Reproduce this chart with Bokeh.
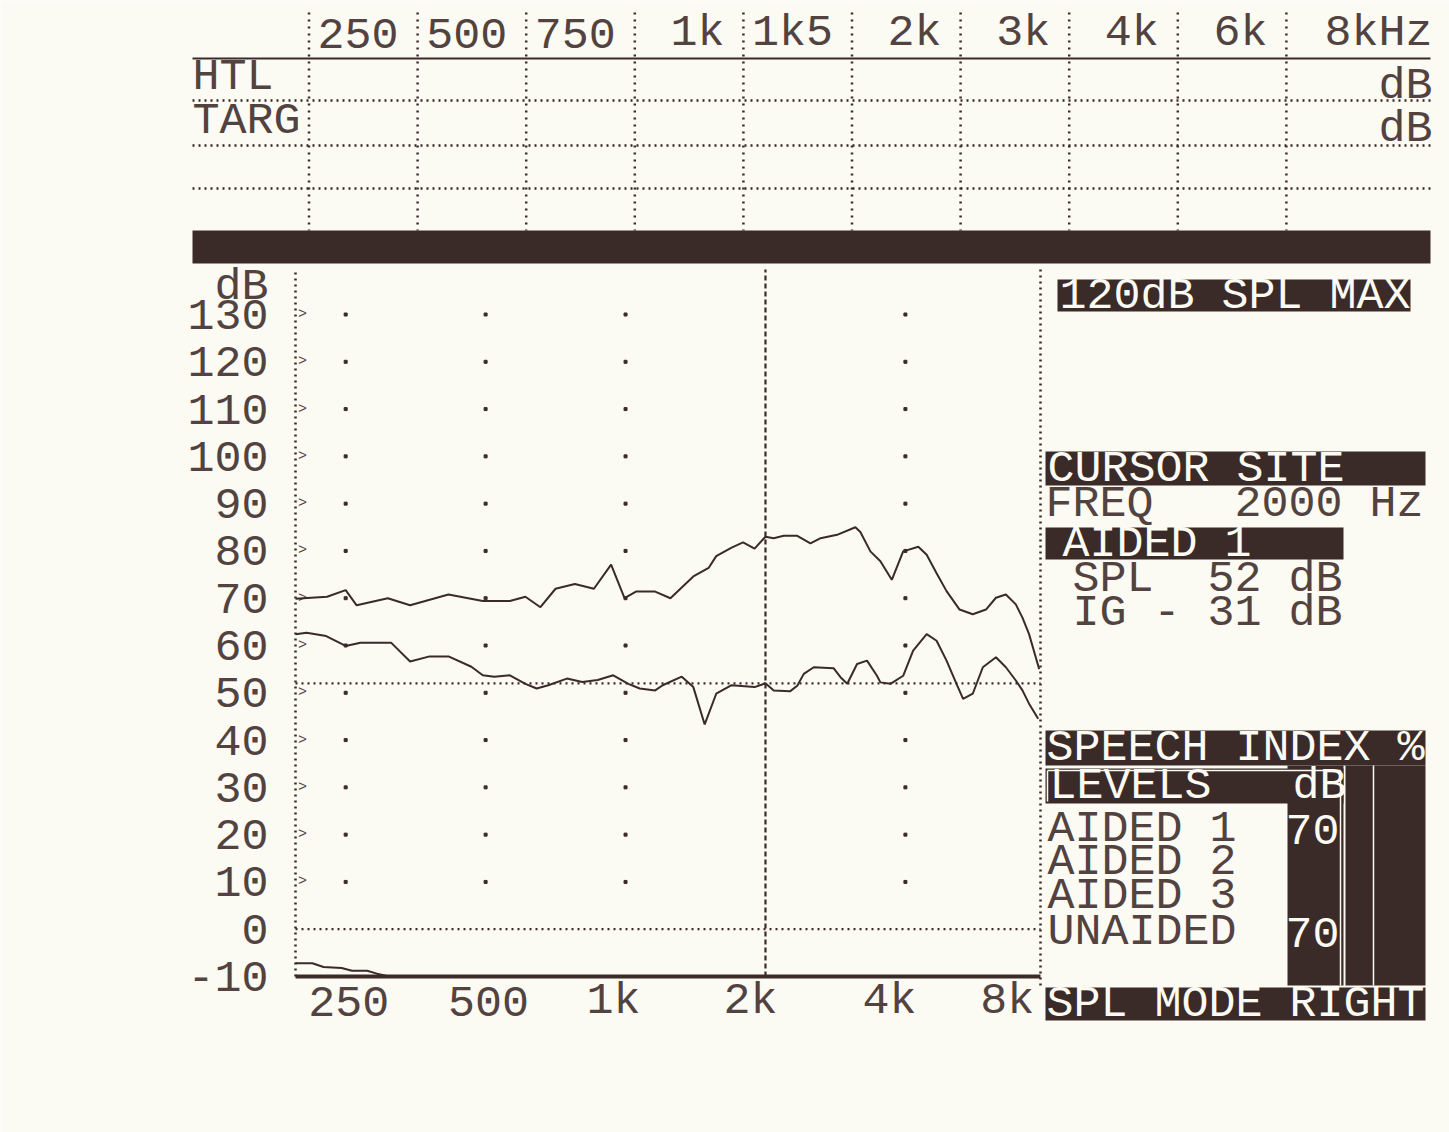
import math
from bokeh.plotting import figure
from bokeh.models import Range1d, LinearScale, LogScale
from bokeh.core.properties import value
from bokeh.embed import file_html
from bokeh.resources import INLINE

# ---- audiogram table header ----
band_labels = ["250", "500", "750", "1k", "1k5", "2k", "3k", "4k", "6k", "8kHz"]
table_rows = ["HTL", "TARG"]
table_unit = "dB"

# ---- response chart axes ----
level_ticks = [130, 120, 110, 100, 90, 80, 70, 60, 50, 40, 30, 20, 10, 0, -10]
level_unit = "dB"
freq_ticks = [250, 500, 1000, 2000, 4000, 8000]
freq_tick_labels = ["250", "500", "1k", "2k", "4k", "8k"]
dot_freqs = [250, 500, 1000, 4000]
dot_levels = [130, 120, 110, 100, 90, 80, 70, 60, 50, 40, 30, 20, 10]

# ---- measured responses (Hz, dB SPL) ----
unaided_freq = [195, 228, 250, 264, 308, 344, 416, 493, 564, 609, 656, 707, 778,
                855, 931, 995, 1053, 1158, 1249, 1399, 1509, 1567, 1691, 1790,
                1895, 2000, 2083, 2189, 2341, 2499, 2628, 2851, 3122, 3200, 3363,
                3534, 3739, 3956, 4264, 4444, 4668, 4904, 5231, 5584, 5962, 6263,
                6579, 6912, 7142, 7380, 7628, 7760]
unaided_spl = [69.9, 70.3, 71.7, 68.5, 70.0, 68.5, 70.8, 69.4, 69.4, 70.3, 68.1,
               72.0, 73.0, 72.0, 77.1, 70.0, 71.4, 71.4, 70.0, 74.6, 76.4, 78.9,
               80.7, 81.8, 80.5, 83.0, 82.7, 83.2, 83.2, 81.6, 82.7, 83.4, 85.0,
               84.0, 79.9, 77.8, 73.9, 79.9, 80.9, 79.2, 75.3, 71.5, 67.6, 66.6,
               67.6, 70.1, 70.8, 68.7, 65.9, 62.4, 57.5, 55.0]

aided1_freq = [195, 206, 227, 250, 269, 313, 344, 379, 416, 466, 493, 522, 564,
               609, 644, 682, 748, 807, 871, 941, 1014, 1073, 1158, 1202, 1321,
               1399, 1480, 1567, 1691, 1895, 2000, 2083, 2258, 2341, 2418, 2540,
               2802, 2900, 2999, 3148, 3307, 3474, 3534, 3714, 3956, 4156, 4444,
               4668, 4904, 5152, 5323, 5584, 5870, 6263, 6579, 6912, 7142, 7380,
               7720]
aided1_spl = [62.4, 62.7, 62.0, 59.9, 60.6, 60.6, 56.6, 57.7, 57.7, 55.5, 53.7,
              53.4, 53.7, 51.9, 50.9, 51.6, 53.0, 52.3, 52.7, 53.7, 51.9, 50.9,
              50.5, 51.6, 53.4, 51.2, 43.3, 49.8, 51.6, 51.2, 52.0, 50.5, 50.3,
              51.5, 54.0, 55.4, 55.2, 53.3, 51.9, 56.1, 56.8, 53.6, 52.2, 51.9,
              53.6, 58.9, 62.4, 61.0, 56.8, 51.9, 48.7, 49.8, 55.4, 57.5, 55.4,
              52.6, 50.5, 47.7, 44.5]

# insertion gain, printed clipped at the floor of the scale
ig_freq = [195, 212, 224, 245, 258, 278, 292, 310, 7760]
ig_db = [-7.2, -7.2, -8.0, -8.2, -8.8, -8.8, -9.4, -10.0, -10.0]

# ---- cursor read-out ----
cursor_freq = 2000
cursor_spl = 52
cursor_ig = -31
spl_max = 120

# ---- speech index panel ----
index_title = "SPEECH INDEX %"
levels_title = "LEVELS   dB"
index_rows = ["AIDED 1", "AIDED 2", "AIDED 3", "UNAIDED"]
index_levels = ["70", "", "", "70"]
mode_line = "SPL MODE RIGHT"

# ---------------- page geometry / style ----------------
W, H = 1449, 1132
PAPER = "#fbfaf3"
INK = "#524240"
DARK = "#3a2a28"
FONT = "Liberation Mono"
FS = "45px"
NBSP = "\u00a0"

F_MIN, F_MAX = 195, 7810          # frequency span of the response window
X_LEFT, X_RIGHT = 295, 1040       # its horizontal pixel edges
Y_FLOOR, Y_TOP_TICK = 976, 314    # pixel rows of -10 dB and 130 dB

oct_px = (X_RIGHT - X_LEFT) / math.log2(F_MAX / F_MIN)
db_px = (Y_FLOOR - Y_TOP_TICK) / 140.0


def f_at(px):
    return F_MIN * 2 ** ((px - X_LEFT) / oct_px)


def db_at(py):
    return -10 + (Y_FLOOR - py) / db_px


p = figure(width=W, height=H, x_axis_type="log",
           x_range=Range1d(f_at(0), f_at(W)), y_range=Range1d(db_at(H), db_at(0)),
           x_axis_location=None, y_axis_location=None, toolbar_location=None,
           min_border=0, output_backend="svg",
           background_fill_color=PAPER, border_fill_color=PAPER,
           outline_line_color=None)
p.x_scale = LogScale()
p.grid.visible = False
p.extra_x_ranges = {"px": Range1d(0, W)}
p.extra_x_scales = {"px": LinearScale()}
p.extra_y_ranges = {"px": Range1d(H, 0)}
p.extra_y_scales = {"px": LinearScale()}

PX = dict(x_range_name="px", y_range_name="px")


def px_text(xs, ys, texts, color=INK, align="left", size=FS):
    p.text(x=xs, y=ys, text=texts, text_font=value(FONT), text_font_size=size,
           text_color=color, text_align=align, text_baseline="middle", **PX)


def px_line_text(x0, y, line, color=INK):
    # fixed-pitch printer line: blanks are kept at full width
    px_text([x0], [y], [line.replace(" ", NBSP)], color=color)


def px_box(x0, y0, x1, y1, color=DARK):
    p.quad(left=[x0], right=[x1], top=[y0], bottom=[y1], fill_color=color,
           line_color=None, **PX)


def px_seg(x0, y0, x1, y1, dash="solid", width=2.0, color=DARK):
    p.segment(x0=x0, y0=y0, x1=x1, y1=y1, line_color=color, line_width=width,
              line_dash=dash, **PX)


# ---------------- header table ----------------
col_x = [308.5 + 108.6 * i for i in range(len(band_labels))]
px_seg(col_x, [12] * len(col_x), col_x, [230] * len(col_x), dash="2 5", width=2.5)
px_seg([192], [58], [1430], [58], width=2.0)
px_seg([192] * 3, [100, 145, 188], [1430] * 3, [100, 145, 188], dash="2 4", width=2.5)
label_x = [x - 19 for x in col_x[1:]] + [1432]
px_text(label_x, [33] * len(band_labels), band_labels, align="right")
px_text([192, 192], [77, 121], table_rows)
px_text([1432, 1432], [86, 129], [table_unit, table_unit], align="right")
px_box(192, 230, 1430, 263)

# ---------------- response chart frame ----------------
top_db = db_at(269)
p.segment(x0=[F_MIN, F_MAX], y0=[-10, db_at(985)], x1=[F_MIN, F_MAX], y1=[top_db, top_db],
          line_color=DARK, line_width=2.5, line_dash="2 4")
p.segment(x0=[cursor_freq], y0=[-10], x1=[cursor_freq], y1=[top_db],
          line_color=DARK, line_width=2.2, line_dash="5 3")
p.segment(x0=[F_MIN, F_MIN], y0=[0, cursor_spl], x1=[F_MAX, F_MAX], y1=[0, cursor_spl],
          line_color=DARK, line_width=2.2, line_dash="2 4")
p.segment(x0=[F_MIN], y0=[-10], x1=[F_MAX], y1=[-10], line_color=DARK, line_width=4)

gx = [f for lv in dot_levels for f in dot_freqs]
gy = [lv for lv in dot_levels for f in dot_freqs]
p.scatter(gx, gy, size=3, color=DARK, marker="square")
p.text(x=[302] * len(dot_levels), y=dot_levels, text=[">"] * len(dot_levels),
       text_font=value(FONT), text_font_size="15px", text_color=INK,
       text_align="center", text_baseline="middle", x_range_name="px")

p.text(x=[268] * len(level_ticks), y=level_ticks, text=[str(v) for v in level_ticks],
       text_font=value(FONT), text_font_size=FS, text_color=INK,
       text_align="right", text_baseline="middle", x_range_name="px")
px_text([268], [287], [level_unit], align="right")

tick_shift = [3, 3, -12, -15, -16, -38]
p.text(x=freq_ticks, y=[db_at(1001)] * len(freq_ticks), text=freq_tick_labels,
       x_offset=tick_shift, text_font=value(FONT), text_font_size=FS,
       text_color=INK, text_align="center", text_baseline="middle")

# ---------------- curves ----------------
p.line(unaided_freq, unaided_spl, line_color=DARK, line_width=2)
p.line(aided1_freq, aided1_spl, line_color=DARK, line_width=2)
p.line(ig_freq, ig_db, line_color=DARK, line_width=2)

# ---------------- read-out panel ----------------
px_box(1057, 279, 1410, 311)
px_text([1059], [296], [f"{spl_max}dB SPL MAX"], color=PAPER)

px_box(1045, 451, 1425, 485)
px_text([1047], [469], ["CURSOR SITE"], color=PAPER)
px_line_text(1045, 504, f"FREQ   {cursor_freq} Hz")
px_box(1045, 527, 1343, 559)
px_text([1062], [544], ["AIDED 1"], color=PAPER)
px_line_text(1045, 579, f" SPL  {cursor_spl} dB")
sign = "-" if cursor_ig < 0 else "+"
px_line_text(1045, 613, f" IG {sign} {abs(cursor_ig)} dB")

# speech index block
px_box(1045, 730, 1425, 765)
px_text([1046], [748], [index_title], color=PAPER)
px_box(1345, 765, 1425, 985)
px_box(1287, 765, 1343, 985)
px_box(1045, 768, 1343, 803)
px_seg([1047, 1047, 1340], [770, 770, 770], [1340, 1047, 1340], [770, 801, 985],
       width=1.5, color=PAPER)
px_seg([1373], [765], [1373], [985], width=1.5, color=PAPER)
px_line_text(1049, 786, levels_title, color=PAPER)
row_y = [829, 862, 896, 932]
px_text([1047] * 4, row_y, index_rows)
px_text([1339] * 4, row_y, index_levels, color=PAPER, align="right")

px_box(1045, 987, 1425, 1020)
px_text([1046], [1004], [mode_line], color=PAPER)

open("out.html", "w").write(file_html(p, INLINE))
